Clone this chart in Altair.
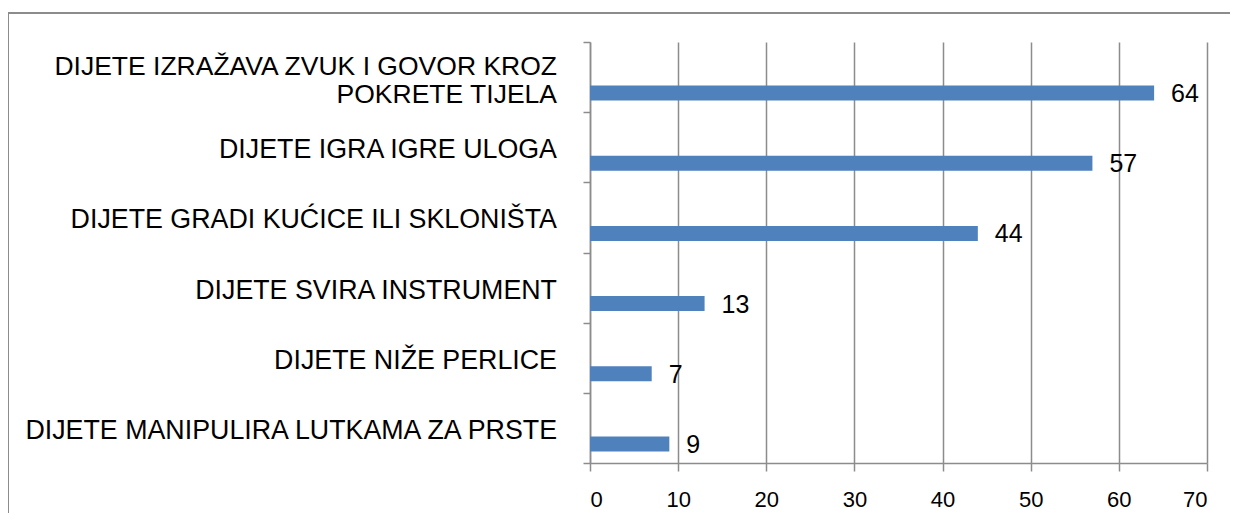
import altair as alt
import pandas as pd

categories = [
    "DIJETE IZRAŽAVA ZVUK I GOVOR KROZ|POKRETE TIJELA",
    "DIJETE IGRA IGRE ULOGA",
    "DIJETE GRADI KUĆICE ILI SKLONIŠTA",
    "DIJETE SVIRA INSTRUMENT",
    "DIJETE NIŽE PERLICE",
    "DIJETE MANIPULIRA LUTKAMA ZA PRSTE",
]
values = [64, 57, 44, 13, 7, 9]
x_ticks = [0, 10, 20, 30, 40, 50, 60, 70]

df = pd.DataFrame({"cat": categories, "val": values})
df["multi"] = df["cat"].str.contains("|", regex=False)

GRAY = "#8c8c8c"
BLUE = "#4f81bd"
FONT = "Liberation Sans"

y_enc = alt.Y(
    "cat:N",
    sort=categories,
    scale=alt.Scale(paddingInner=0, paddingOuter=0),
    axis=alt.Axis(
        title=None,
        tickBand="extent",
        tickSize=7,
        tickColor=GRAY,
        tickWidth=1.5,
        domainColor=GRAY,
        domainWidth=1.5,
        labels=False,
        grid=False,
    ),
)

x_enc = alt.X(
    "val:Q",
    scale=alt.Scale(domain=[0, 70], nice=False),
    axis=alt.Axis(
        title=None,
        values=x_ticks,
        grid=True,
        gridColor=GRAY,
        gridWidth=1.5,
        tickColor=GRAY,
        tickWidth=1.5,
        tickSize=8,
        domainColor=GRAY,
        domainWidth=1.5,
        labelFont=FONT,
        labelFontSize=22,
        labelColor="black",
        labelPadding=18,
    ),
)

y_plain = alt.Y("cat:N", sort=categories)

bars = alt.Chart(df).mark_bar(size=15, yOffset=16, color=BLUE).encode(
    x=x_enc, y=y_enc
)

values_text = alt.Chart(df).mark_text(
    align="left", baseline="middle", dx=17, dy=17,
    font=FONT, fontSize=25, color="black"
).encode(x="val:Q", y=y_plain, text="val:Q")

cat_single = alt.Chart(df).transform_filter("!datum.multi").mark_text(
    align="right", baseline="middle", dy=3,
    font=FONT, fontSize=26.8, color="black", clip=False
).encode(x=alt.value(-33), y=y_plain, text="cat:N")

cat_multi = alt.Chart(df).transform_filter("datum.multi").mark_text(
    align="right", baseline="middle", dy=-10.5, lineBreak="|", lineHeight=28,
    font=FONT, fontSize=26.5, color="black", clip=False
).encode(x=alt.value(-33), y=y_plain, text="cat:N")

frame_top = alt.Chart(df).mark_rule(stroke=GRAY, strokeWidth=2, clip=False).encode(
    x=alt.value(-582), x2=alt.value(700), y=alt.value(-29)
)
frame_left = alt.Chart(df).mark_rule(stroke=GRAY, strokeWidth=2, clip=False).encode(
    x=alt.value(-582), y=alt.value(-29), y2=alt.value(600)
)

chart = alt.layer(
    frame_top, frame_left, bars, values_text, cat_single, cat_multi
).properties(
    width=617,
    height=421,
    padding={"left": 582, "top": 34, "right": 23, "bottom": 50},
    autosize=alt.AutoSizeParams(type="none"),
).configure_view(stroke=None)

chart.save("out.html", embed_options={"renderer": "svg", "actions": False})
